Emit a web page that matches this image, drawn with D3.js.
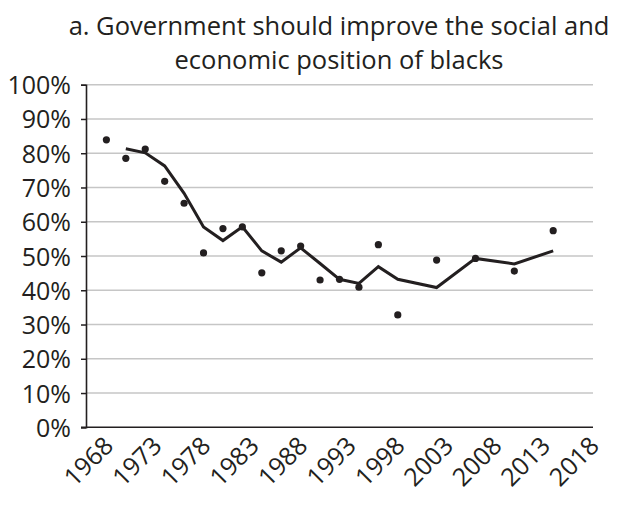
<!DOCTYPE html>
<html>
<head>
<meta charset="utf-8">
<script src="https://cdn.jsdelivr.net/npm/d3@7"></script>
<style>
  html, body { margin: 0; padding: 0; background: #fff; }
  svg { display: block; font-family: "Open Sans", "Noto Sans", sans-serif; }
</style>
</head>
<body>
<svg id="chart" width="640" height="519"></svg>
<script>
// Data
const titleLines = ["a. Government should improve the social and", "economic position of blacks"];
const surveyYears = [1970, 1972, 1974, 1976, 1978, 1980, 1982, 1984, 1986, 1988, 1990, 1992, 1994, 1996, 1998, 2000, 2004, 2008, 2012, 2016];
const surveyValues = [83.9, 78.5, 81.2, 71.8, 65.4, 50.9, 58.0, 58.5, 45.1, 51.5, 52.9, 43.0, 43.2, 40.9, 53.3, 32.8, 48.8, 49.3, 45.6, 57.4];
const trendYears = [1972, 1974, 1976, 1978, 1980, 1982, 1984, 1986, 1988, 1990, 1992, 1994, 1996, 1998, 2000, 2004, 2008, 2012, 2016];
const trendValues = [81.3, 80.1, 76.3, 68.3, 58.5, 54.5, 58.5, 51.5, 48.2, 52.4, 47.8, 43.2, 42.0, 46.9, 43.2, 40.8, 49.3, 47.7, 51.5];
const xTickYears = [1968, 1973, 1978, 1983, 1988, 1993, 1998, 2003, 2008, 2013, 2018];
const yTickValues = [0, 10, 20, 30, 40, 50, 60, 70, 80, 90, 100];

const svg = d3.select("#chart");
const plotLeft = 86, plotRight = 593, plotTop = 84.7, plotBottom = 427.3;

const x = d3.scaleLinear().domain([1967.9, 2020.1]).range([plotLeft, plotRight]);
const y = d3.scaleLinear().domain([0, 100]).range([plotBottom, plotTop]);

// Title
svg.append("g").selectAll("text").data(titleLines).join("text")
  .attr("x", 339).attr("y", (d, i) => 34.5 + i * 34)
  .attr("text-anchor", "middle")
  .attr("font-size", 25.5)
  .attr("fill", "#231f20")
  .text(d => d);

// Gridlines
svg.append("g").selectAll("line").data(yTickValues.filter(v => v > 0)).join("line")
  .attr("x1", plotLeft).attr("x2", plotRight)
  .attr("y1", d => y(d)).attr("y2", d => y(d))
  .attr("stroke", "#c6c6c6").attr("stroke-width", 1.5);

// Y axis
const yAxis = d3.axisLeft(y).tickValues(yTickValues).tickFormat(d => d + "%").tickSize(5).tickPadding(10);
const gy = svg.append("g").attr("transform", `translate(${plotLeft},0)`).call(yAxis);
gy.select(".domain").attr("stroke", "#231f20").attr("stroke-width", 1.6);
gy.selectAll(".tick line").attr("stroke", "#231f20").attr("stroke-width", 1.5);
gy.selectAll(".tick text").attr("font-size", 25).attr("fill", "#231f20")
  .attr("font-family", '"Open Sans", sans-serif').attr("dy", "0.36em");

// X axis
const xAxis = d3.axisBottom(x).tickValues(xTickYears).tickFormat(d3.format("d")).tickSize(0);
const gx = svg.append("g").attr("transform", `translate(0,${plotBottom})`).call(xAxis);
gx.select(".domain").attr("stroke", "#231f20").attr("stroke-width", 1.6)
  .attr("d", `M${plotLeft - 5},0H${plotRight}`);
gx.selectAll(".tick text")
  .attr("font-size", 25).attr("fill", "#231f20")
  .attr("font-family", '"Open Sans", sans-serif')
  .attr("text-anchor", "middle")
  .attr("y", 0).attr("dy", "0.35em")
  .attr("transform", "translate(1,34) rotate(-45)");

// Trend line
const line = d3.line().x((d, i) => x(trendYears[i])).y(d => y(d));
svg.append("path").datum(trendValues)
  .attr("d", line)
  .attr("fill", "none").attr("stroke", "#231f20")
  .attr("stroke-width", 3).attr("stroke-linejoin", "miter");

// Dots
svg.append("g").selectAll("circle").data(surveyValues).join("circle")
  .attr("cx", (d, i) => x(surveyYears[i]))
  .attr("cy", d => y(d))
  .attr("r", 3.6)
  .attr("fill", "#231f20");
</script>
</body>
</html>
